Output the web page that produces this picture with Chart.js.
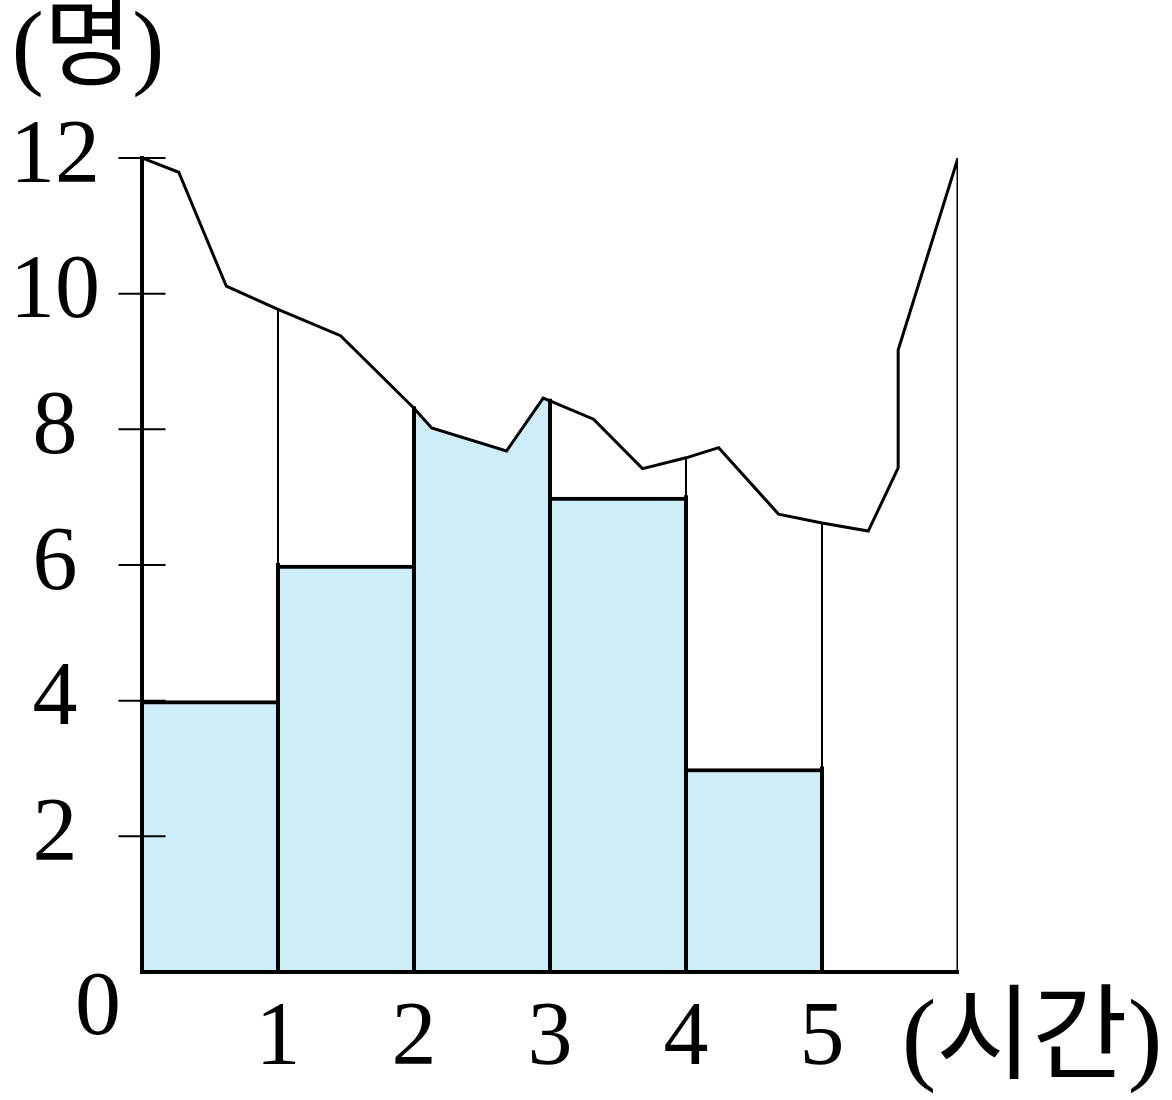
<!DOCTYPE html>
<html lang="ko">
<head>
<meta charset="utf-8">
<title>히스토그램</title>
<script src="https://cdn.jsdelivr.net/npm/chart.js@4.4.1/dist/chart.umd.min.js"></script>
<style>
  html, body { margin: 0; padding: 0; background: #fff; }
  #wrap { width: 1172px; height: 1100px; }
</style>
</head>
<body>
<div id="wrap"><canvas id="chart" width="1172" height="1100"></canvas></div>
<script>
"use strict";

// 계급 (시간) and 도수 (명); the 2~3 bar is torn away, so its count is unknown
const binEdges = [0, 1, 2, 3, 4, 5, 6];
const counts = [4, 6, null, 7, 3];
const yTicks = [2, 4, 6, 8, 10, 12];
const xTickLabels = ["", "1", "2", "3", "4", "5", ""];
const yUnit = "(명)";
const xUnit = "(시간)";
const originLabel = "0";

// torn edge of the paper
const tornX = [0, 0.27, 0.62, 1, 1.46, 2, 2.13, 2.68, 2.95, 3, 3.32, 3.68, 4, 4.24, 4.68, 5, 5.34, 5.56, 5.56, 6];
const tornY = [12, 11.79, 10.11, 9.77, 9.38, 8.31, 8.02, 7.68, 8.46, 8.42, 8.15, 7.42, 7.58, 7.73, 6.75, 6.62, 6.5, 7.43, 9.17, 12];

const FILL = "#cdedf9";
const INK = "#000";
const SERIF = "'Liberation Serif', 'Noto Sans CJK KR', serif";

const tornAt = (x) => tornY[tornX.indexOf(x)];
const heightOf = (i) => (i < 0 || i >= counts.length) ? 0 : (counts[i] === null ? tornAt(binEdges[i + 1]) : counts[i]);

const tornLine = tornX.map((x, i) => ({ x, y: tornY[i] })).concat([{ x: 6, y: 0 }]);
const tornBar = tornX.map((x, i) => ({ x, y: tornY[i] }))
  .filter((p) => p.x >= binEdges[counts.indexOf(null)] && p.x <= binEdges[counts.indexOf(null) + 1]);

const thinEdges = [];
const thickEdges = [];
for (let k = 1; k < binEdges.length - 1; k++) {
  const e = binEdges[k];
  thinEdges.push({ x: e, y: 0 }, { x: e, y: tornAt(e) }, { x: e, y: null });
  const left = counts[k - 1] === null ? tornAt(e) : heightOf(k - 1);
  const right = counts[k] === null ? tornAt(e) : heightOf(k);
  thickEdges.push({ x: e, y: 0 }, { x: e, y: Math.max(left, right) }, { x: e, y: null });
}

const bars = counts
  .map((c, i) => (c === null ? null : { x: (binEdges[i] + binEdges[i + 1]) / 2, y: c }))
  .filter(Boolean);

const noPts = { pointRadius: 0, pointHoverRadius: 0 };

const extraLabels = {
  id: "extraLabels",
  afterDraw(chart) {
    const { ctx } = chart;
    const { x, y } = chart.scales;
    ctx.save();
    ctx.fillStyle = INK;
    ctx.textAlign = "center";
    ctx.textBaseline = "middle";
    ctx.font = `96px ${SERIF}`;
    ctx.fillText(yUnit, x.left - 54, y.top - 106);
    ctx.font = `92px ${SERIF}`;
    ctx.fillText(originLabel, x.left - 44, y.bottom + 38);
    ctx.font = `104px ${SERIF}`;
    ctx.fillText(xUnit, x.right + 74, y.bottom + 72);
    ctx.restore();
  },
};

new Chart(document.getElementById("chart"), {
  type: "bar",
  data: {
    datasets: [
      { type: "line", data: yTicks.map((v) => ({ x: 0, y: v })), showLine: false, pointStyle: "line",
        pointRadius: 23.5, pointHoverRadius: 23.5, pointBorderWidth: 2, pointBorderColor: INK, borderColor: INK,
        clip: false, order: 0 },
      { type: "line", data: tornLine, borderColor: INK, borderWidth: 3, fill: false, order: 1, ...noPts },
      { type: "line", data: thickEdges, borderColor: INK, borderWidth: 4, borderCapStyle: "square", fill: false, order: 2, ...noPts },
      { data: bars, backgroundColor: FILL, borderColor: INK, borderWidth: { top: 4, left: 0, right: 0, bottom: 0 },
        borderSkipped: false, barPercentage: 1, categoryPercentage: 1, order: 3 },
      { type: "line", data: thinEdges, borderColor: INK, borderWidth: 2, fill: false, order: 4, ...noPts },
      { type: "line", data: tornBar, borderColor: "transparent", borderWidth: 1, backgroundColor: FILL,
        fill: "origin", order: 5, ...noPts },
    ],
  },
  options: {
    responsive: false,
    animation: false,
    events: [],
    layout: { padding: { top: 158, right: 214, left: 0, bottom: 0 } },
    plugins: { legend: { display: false }, tooltip: { enabled: false }, title: { display: false } },
    scales: {
      x: {
        type: "linear",
        min: binEdges[0],
        max: binEdges[binEdges.length - 1],
        offset: false,
        grid: { display: true, drawOnChartArea: false, drawTicks: false, offset: false },
        border: { display: true, color: INK, width: 4, z: 1 },
        ticks: {
          stepSize: 1,
          autoSkip: false,
          maxRotation: 0,
          padding: 14,
          color: INK,
          font: { family: SERIF, size: 90 },
          callback: (v) => xTickLabels[v] ?? "",
        },
        afterFit: (s) => { s.height = 128; },
      },
      y: {
        min: 0,
        max: 12,
        grid: { display: true, drawOnChartArea: false, drawTicks: false },
        border: { display: true, color: INK, width: 4, z: 1 },
        ticks: {
          stepSize: 2,
          padding: 42,
          crossAlign: "center",
          color: INK,
          font: { family: SERIF, size: 90 },
          callback: (v) => (yTicks.includes(v) ? String(v) : ""),
        },
        afterFit: (s) => { s.width = 142; },
      },
    },
  },
  plugins: [extraLabels],
});
</script>
</body>
</html>
